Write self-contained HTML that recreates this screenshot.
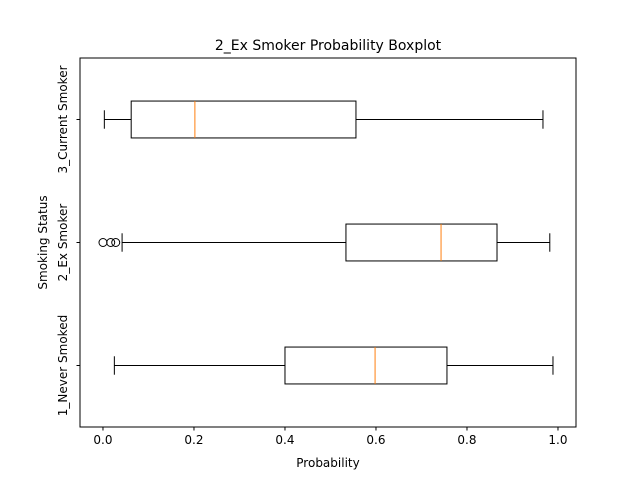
<!DOCTYPE html>
<html><head><meta charset="utf-8"><style>
body{margin:0;background:#fff;}
svg text{font-family:"DejaVu Sans","Liberation Sans",sans-serif;fill:#000;}
</style></head><body>
<svg id="chart" width="640" height="480" xmlns="http://www.w3.org/2000/svg"></svg>
<script>
const categories=["1_Never Smoked","2_Ex Smoker","3_Current Smoker"];
const whiskerLow=[0.025,0.042,0.003];
const q1=[0.40,0.534,0.062];
const medians=[0.598,0.743,0.202];
const q3=[0.756,0.866,0.556];
const whiskerHigh=[0.989,0.982,0.967];
const outliers=[[],[0.0,0.017,0.028],[]];
const xTicks=[0,0.2,0.4,0.6,0.8,1.0];
const xTickLabels=["0.0","0.2","0.4","0.6","0.8","1.0"];

const L=80,R=576,T=58,B=427;
const xmin=-0.0505,xmax=1.0396;
const X=v=>L+(v-xmin)/(xmax-xmin)*(R-L);
const Y=p=>B-(p-0.5)/3*(B-T);
const svg=document.getElementById('chart');
const NS='http://www.w3.org/2000/svg';
function mk(tag,attrs,parent){const e=document.createElementNS(NS,tag);for(const k in attrs)e.setAttribute(k,attrs[k]);(parent||svg).appendChild(e);return e;}

const title=mk('text',{x:(L+R)/2,y:50,'text-anchor':'middle','font-size':14});
title.textContent="2_Ex Smoker Probability Boxplot";



categories.forEach((c,i)=>{
  const g=mk('g',{});
  
  
  const yc=Y(i+1),h=(B-T)/3*0.3,cap=h/2;
  mk('line',{x1:X(whiskerLow[i]),x2:X(q1[i]),y1:yc,y2:yc,stroke:'#000'},g);
  mk('line',{x1:X(q3[i]),x2:X(whiskerHigh[i]),y1:yc,y2:yc,stroke:'#000'},g);
  mk('line',{x1:X(whiskerLow[i]),x2:X(whiskerLow[i]),y1:yc-cap/2,y2:yc+cap/2,stroke:'#000'},g);
  mk('line',{x1:X(whiskerHigh[i]),x2:X(whiskerHigh[i]),y1:yc-cap/2,y2:yc+cap/2,stroke:'#000'},g);
  mk('rect',{x:X(q1[i]),y:yc-h/2,width:X(q3[i])-X(q1[i]),height:h,fill:'none',stroke:'#000'},g);
  mk('line',{x1:X(medians[i]),x2:X(medians[i]),y1:yc-h/2,y2:yc+h/2,stroke:'#ff7f0e'},g);
  outliers[i].forEach(v=>{
    const o=mk('circle',{cx:X(v),cy:yc,r:4,fill:'none',stroke:'#000'},g);
    
    
  });
  mk('line',{x1:L-3.5,x2:L,y1:yc,y2:yc,stroke:'#000'});
  const t=mk('text',{x:0,y:0,'text-anchor':'middle','font-size':12,transform:`translate(${L-13},${yc}) rotate(-90)`});
  t.textContent=c;
  
  
});

xTicks.forEach((v,i)=>{
  mk('line',{x1:X(v),x2:X(v),y1:B,y2:B+3.5,stroke:'#000'});
  const t=mk('text',{x:X(v),y:B+17,'text-anchor':'middle','font-size':12});
  t.textContent=xTickLabels[i];
  
  
});

const frame=mk('rect',{x:L,y:T,width:R-L,height:B-T,fill:'none',stroke:'#000'});



const xl=mk('text',{x:(L+R)/2,y:467,'text-anchor':'middle','font-size':12});
xl.textContent="Probability";


const yl=mk('text',{x:0,y:0,'text-anchor':'middle','font-size':12,transform:`translate(47,${(T+B)/2}) rotate(-90)`});
yl.textContent="Smoking Status";


</script>
</body></html>
